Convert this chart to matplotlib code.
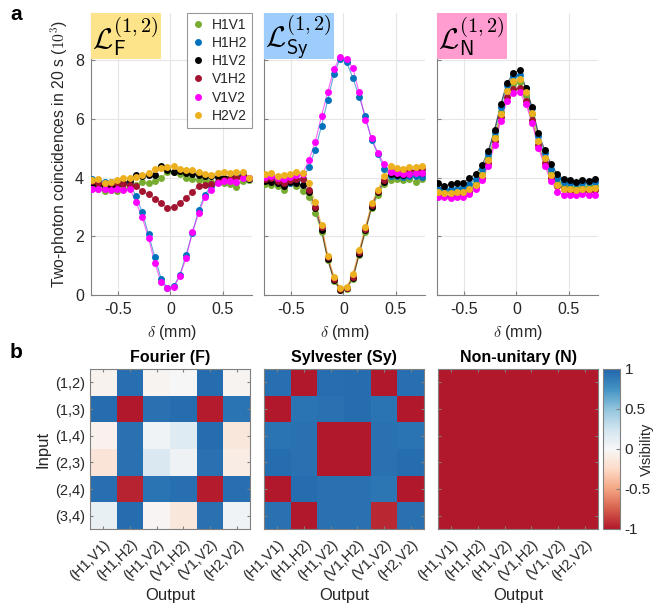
import numpy as np
import matplotlib
matplotlib.use("Agg")
import matplotlib.pyplot as plt
from matplotlib.colors import LinearSegmentedColormap
from matplotlib.patches import Rectangle

plt.rcParams['font.family'] = ['Liberation Sans', 'DejaVu Sans']
plt.rcParams['mathtext.fontset'] = 'cm'

# ---- data: two-photon coincidences (10^3 counts in 20 s) ----
delta = [-0.75, -0.69, -0.63, -0.57, -0.51, -0.45, -0.39, -0.33, -0.27, -0.21, -0.15, -0.09, -0.03,
         0.03, 0.09, 0.15, 0.21, 0.27, 0.33, 0.39, 0.45, 0.51, 0.57, 0.63, 0.69, 0.75]

series_names = ["H1V1", "H1H2", "H1V2", "V1H2", "V1V2", "H2V2"]
series_colors = ["#77ac30", "#0072bd", "#000000", "#a2142f", "#ff00ff", "#edb120"]

fourier_counts = {
    "H1V1": [3.68, 3.62, 3.55, 3.57, 3.55, 3.62, 3.70, 3.76, 3.83, 3.80, 3.88, 3.98, 4.18,
             4.20, 4.12, 4.00, 3.94, 3.92, 3.90, 3.86, 3.85, 3.82, 3.78, 3.66, 3.88, 3.90],
    "H1H2": [3.95, 3.90, 3.85, 3.85, 3.86, 3.82, 3.78, 3.37, 2.82, 2.06, 1.30, 0.56, 0.25,
             0.29, 0.68, 1.37, 2.12, 2.89, 3.42, 3.72, 3.85, 3.92, 3.98, 4.05, 4.15, 3.95],
    "H1V2": [3.82, 3.75, 3.72, 3.70, 3.75, 3.80, 3.88, 4.08, 4.05, 4.08, 4.10, 4.38, 4.25,
             4.20, 4.22, 4.15, 4.12, 4.10, 4.06, 4.05, 4.02, 4.00, 4.00, 4.02, 4.05, 3.95],
    "V1H2": [3.88, 3.80, 3.78, 3.80, 3.82, 3.78, 3.75, 3.72, 3.54, 3.43, 3.27, 3.12, 2.97,
             3.00, 3.14, 3.29, 3.51, 3.72, 3.74, 3.78, 3.85, 3.90, 3.95, 4.02, 4.05, 3.98],
    "V1V2": [3.62, 3.62, 3.60, 3.58, 3.62, 3.58, 3.62, 3.17, 2.64, 1.95, 1.09, 0.44, 0.23,
             0.26, 0.65, 1.27, 2.14, 2.78, 3.35, 3.58, 3.80, 3.88, 3.88, 3.85, 3.98, 4.00],
    "H2V2": [3.92, 3.96, 3.82, 3.85, 3.92, 3.98, 4.00, 4.02, 4.08, 4.15, 4.28, 4.32, 4.35,
             4.38, 4.30, 4.27, 4.24, 4.18, 4.12, 4.10, 4.15, 4.18, 4.16, 4.20, 4.20, 4.00],
}

sylvester_counts = {
    "H1V1": [3.78, 3.75, 3.72, 3.56, 3.80, 3.72, 3.55, 3.35, 2.80, 2.15, 1.20, 0.48, 0.18,
             0.20, 0.55, 1.35, 2.15, 2.95, 3.40, 3.78, 3.92, 3.95, 3.92, 3.95, 3.85, 3.95],
    "H1H2": [3.90, 3.88, 3.80, 3.85, 3.82, 3.88, 3.95, 4.36, 4.95, 5.75, 6.65, 7.54, 8.05,
             7.92, 7.39, 6.75, 6.08, 5.27, 4.80, 4.30, 4.05, 4.05, 4.02, 4.05, 4.05, 4.02],
    "H1V2": [3.88, 3.85, 3.80, 3.72, 3.85, 3.80, 3.75, 3.50, 2.95, 2.22, 1.22, 0.50, 0.18,
             0.25, 0.58, 1.40, 2.22, 3.00, 3.50, 3.85, 4.12, 4.10, 4.10, 4.12, 4.18, 4.15],
    "V1H2": [3.95, 3.98, 3.88, 3.82, 3.90, 3.95, 3.95, 3.58, 3.00, 2.30, 1.30, 0.55, 0.20,
             0.24, 0.62, 1.45, 2.25, 3.05, 3.55, 3.90, 4.20, 4.30, 4.25, 4.25, 4.22, 4.30],
    "V1V2": [4.02, 4.05, 3.98, 3.95, 4.02, 4.08, 4.12, 4.61, 5.20, 6.10, 6.92, 7.70, 8.11,
             8.05, 7.72, 6.90, 5.97, 5.33, 4.82, 4.45, 4.18, 4.15, 4.12, 4.12, 4.15, 4.15],
    "H2V2": [4.12, 4.15, 4.05, 4.08, 4.12, 4.18, 4.16, 3.82, 3.15, 2.40, 1.34, 0.62, 0.23,
             0.26, 0.71, 1.53, 2.32, 3.12, 3.59, 4.05, 4.38, 4.32, 4.30, 4.35, 4.35, 4.40],
}

nonunitary_counts = {
    "H1V1": [3.55, 3.52, 3.55, 3.55, 3.58, 3.65, 3.82, 4.15, 4.65, 5.40, 6.22, 6.95, 7.20,
             7.25, 6.80, 6.15, 5.25, 4.65, 4.15, 3.85, 3.72, 3.68, 3.65, 3.68, 3.70, 3.72],
    "H1H2": [3.62, 3.60, 3.62, 3.62, 3.68, 3.78, 3.95, 4.28, 4.80, 5.55, 6.40, 7.15, 7.45,
             7.50, 7.05, 6.35, 5.40, 4.82, 4.30, 4.00, 3.85, 3.82, 3.80, 3.82, 3.85, 3.85],
    "H1V2": [3.82, 3.70, 3.78, 3.80, 3.82, 3.98, 4.12, 4.42, 4.90, 5.62, 6.50, 7.22, 7.55,
             7.65, 7.05, 6.40, 5.50, 4.95, 4.45, 4.12, 3.95, 3.90, 3.85, 3.92, 3.88, 3.95],
    "V1H2": [3.40, 3.38, 3.35, 3.40, 3.45, 3.52, 3.70, 4.00, 4.50, 5.25, 6.05, 6.75, 7.00,
             7.05, 6.60, 5.95, 5.10, 4.50, 4.00, 3.72, 3.60, 3.55, 3.52, 3.55, 3.55, 3.58],
    "V1V2": [3.35, 3.35, 3.30, 3.32, 3.35, 3.45, 3.60, 3.90, 4.40, 5.10, 5.92, 6.60, 6.88,
             6.92, 6.50, 5.85, 5.00, 4.40, 3.88, 3.52, 3.42, 3.40, 3.40, 3.45, 3.42, 3.40],
    "H2V2": [3.50, 3.48, 3.48, 3.50, 3.52, 3.60, 3.75, 4.08, 4.60, 5.35, 6.15, 6.95, 7.30,
             7.35, 6.90, 6.20, 5.25, 4.65, 4.10, 3.75, 3.62, 3.60, 3.58, 3.62, 3.62, 3.65],
}

# ---- data: visibility matrices ----
input_labels = ["(1,2)", "(1,3)", "(1,4)", "(2,3)", "(2,4)", "(3,4)"]
output_labels = ["(H1,V1)", "(H1,H2)", "(H1,V2)", "(V1,H2)", "(V1,V2)", "(H2,V2)"]

vis_fourier = [
    [-0.04, 0.94, -0.03, 0.00, 0.96, -0.03],
    [0.96, -1.00, 0.93, 0.96, -0.98, 0.92],
    [-0.05, 0.93, 0.04, 0.16, 0.96, -0.14],
    [-0.16, 0.93, 0.18, 0.06, 0.93, -0.09],
    [0.94, -0.96, 0.92, 0.94, -0.98, 0.94],
    [0.09, 0.96, -0.02, -0.14, 0.93, 0.05],
]
vis_sylvester = [
    [0.94, -1.00, 0.95, 0.96, -1.00, 0.94],
    [-1.00, 0.92, 0.93, 0.96, 0.92, -1.00],
    [0.92, 0.93, -1.00, -1.00, 0.93, 0.92],
    [0.96, 0.93, -1.00, -1.00, 0.93, 0.96],
    [-1.00, 0.96, 0.93, 0.93, 0.90, -1.00],
    [0.93, -1.00, 0.93, 0.93, -0.94, 0.93],
]
vis_nonunitary = [[-1.00] * 6 for _ in range(6)]

W, H = 656, 606
fig = plt.figure(figsize=(W / 100, H / 100), dpi=100)

txt_col = '#262626'
spine_col = '#808080'


def px_axes(x0, y0, x1, y1):
    return fig.add_axes([x0 / W, 1 - y1 / H, (x1 - x0) / W, (y1 - y0) / H])


# ---- panel a ----
panels = [
    (fourier_counts, r'$\mathcal{L}^{(1,2)}_{\mathsf{F}}$', '#fde38a'),
    (sylvester_counts, r'$\mathcal{L}^{(1,2)}_{\mathsf{Sy}}$', '#9fcdfb'),
    (nonunitary_counts, r'$\mathcal{L}^{(1,2)}_{\mathsf{N}}$', '#ff9dd0'),
]
lefts = [91, 264, 437]
top_axes = []
for i, (counts, title, boxcol) in enumerate(panels):
    ax = px_axes(lefts[i], 13, lefts[i] + 161, 295)
    top_axes.append(ax)
    for name, col in zip(series_names, series_colors):
        ax.plot(delta, counts[name], '-', color=col, lw=0.8, alpha=0.6, zorder=2)
        ax.plot(delta, counts[name], 'o', color=col, ms=5.0, mec='none', zorder=3,
                label=name)
    ax.set_xlim(-0.76, 0.78)
    ax.set_ylim(0, 9.6)
    ax.set_xticks([-0.5, 0, 0.5])
    ax.set_xticklabels(['-0.5', '0', '0.5'])
    ax.set_yticks([0, 2, 4, 6, 8])
    ax.grid(True, color='#e6e6e6', lw=0.8, zorder=0)
    ax.set_axisbelow(True)
    for s in ['top', 'right']:
        ax.spines[s].set_visible(False)
    for s in ['left', 'bottom']:
        ax.spines[s].set_color(spine_col)
    ax.tick_params(direction='in', length=3, color=spine_col, labelcolor=txt_col,
                   labelsize=11.5, pad=5)
    ax.set_xlabel(r'$\delta$ (mm)', fontsize=11.5, color=txt_col, labelpad=4)
    if i == 0:
        ax.set_ylabel(r'Two-photon coincidences in 20 s ($10^3$)', fontsize=11.3,
                      color=txt_col, labelpad=4)
    else:
        ax.set_yticklabels([])
    ax.add_patch(Rectangle((0, 0.837), 0.435, 0.163, transform=ax.transAxes,
                           facecolor=boxcol, edgecolor='none', zorder=4, clip_on=False))
    ax.text(0.215, 0.915, title, transform=ax.transAxes, ha='center', va='center',
            fontsize=21, zorder=5)

leg = top_axes[0].legend(loc='upper right', bbox_to_anchor=(1.0, 1.0), borderaxespad=0,
                         fontsize=10, frameon=True, fancybox=False, handlelength=0.9,
                         handletextpad=0.5, labelspacing=0.3, borderpad=0.35)
leg.get_frame().set_edgecolor(spine_col)
leg.get_frame().set_linewidth(0.8)
for t in leg.get_texts():
    t.set_color(txt_col)

# ---- panel b ----
cmap = LinearSegmentedColormap.from_list(
    'rdbu9', ['#b2182b', '#d6604d', '#f4a582', '#fddbc7', '#f7f7f7',
              '#d1e5f0', '#92c5de', '#4393c3', '#2166ac'])

maps = [(vis_fourier, 'Fourier (F)'), (vis_sylvester, 'Sylvester (Sy)'),
        (vis_nonunitary, 'Non-unitary (N)')]
hm_lefts = [90, 264, 438]
for i, (vis, title) in enumerate(maps):
    ax = px_axes(hm_lefts[i], 369, hm_lefts[i] + 160, 529)
    im = ax.imshow(np.array(vis), cmap=cmap, vmin=-1, vmax=1, aspect='auto')
    ax.set_xticks(range(6))
    ax.set_yticks(range(6))
    ax.set_xticklabels(output_labels, rotation=45, ha='right', va='top',
                       rotation_mode='anchor')
    if i == 0:
        ax.set_yticklabels(input_labels)
        ax.set_ylabel('Input', fontsize=12, color=txt_col, labelpad=3)
    else:
        ax.set_yticklabels([])
    ax.tick_params(direction='in', length=2.5, top=True, right=True, color=spine_col,
                   labelcolor=txt_col, labelsize=10.5)
    ax.tick_params(axis='x', pad=6)
    for s in ax.spines.values():
        s.set_color(spine_col)
    ax.set_title(title, fontsize=11.5, fontweight='bold', color='black', pad=5)
    ax.set_xlabel('Output', fontsize=12, color=txt_col, labelpad=3)

cax = px_axes(603, 369, 620, 529)
cb = fig.colorbar(im, cax=cax, ticks=[-1, -0.5, 0, 0.5, 1])
cb.ax.set_yticklabels(['-1', '-0.5', '0', '0.5', '1'])
cb.ax.tick_params(direction='in', length=3, color=spine_col, labelcolor=txt_col,
                  labelsize=11)
cb.outline.set_edgecolor(spine_col)
cb.set_label('Visibility', fontsize=10.5, color=txt_col, labelpad=-8)

fig.text(10 / W, 1 - 15 / H, 'a', fontsize=15, fontweight='bold', va='center')
fig.text(10 / W, 1 - 352 / H, 'b', fontsize=15, fontweight='bold', va='center')

fig.savefig('out.png', dpi=100)
